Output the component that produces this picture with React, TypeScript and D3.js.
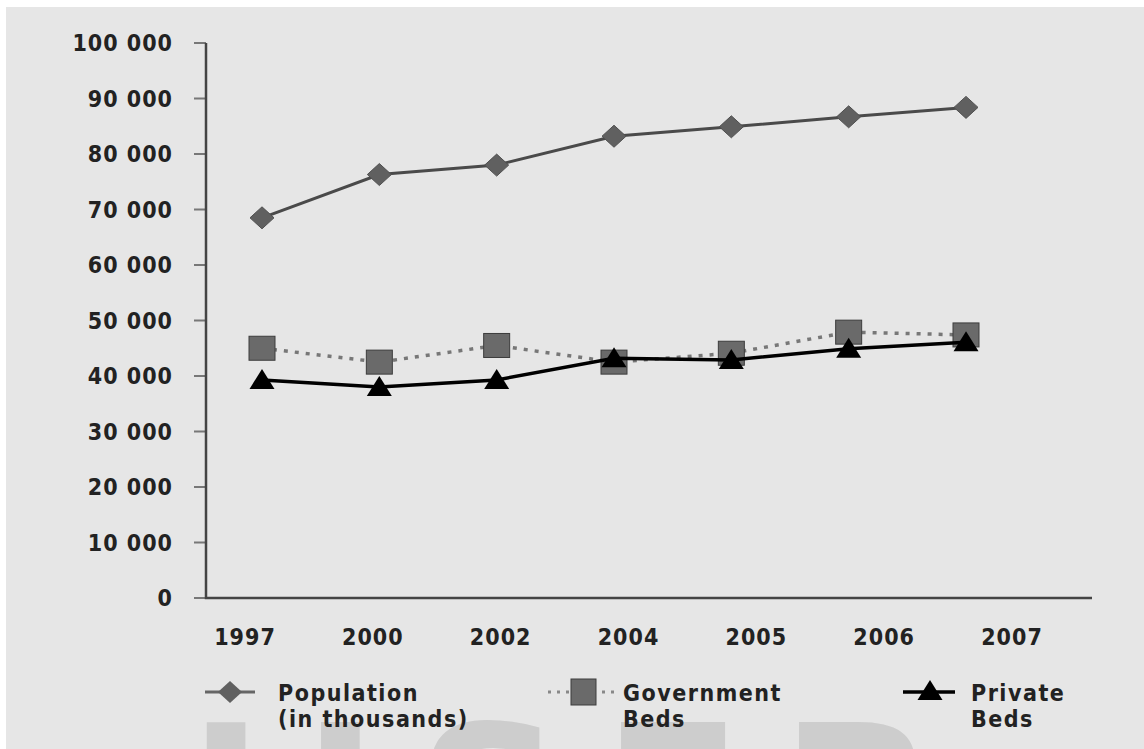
import React, { useEffect, useRef } from 'react';
import * as d3 from 'd3';

const years = ['1997', '2000', '2002', '2004', '2005', '2006', '2007'];
const population = [68500, 76300, 78000, 83200, 84900, 86700, 88400];
const governmentBeds = [45000, 42500, 45500, 42500, 44100, 47900, 47400];
const privateBeds = [39300, 38000, 39300, 43200, 42900, 44900, 46100];
const yTicks = [0, 10000, 20000, 30000, 40000, 50000, 60000, 70000, 80000, 90000, 100000];

const FONT = '"DejaVu Sans Condensed", "DejaVu Sans", sans-serif';

const App = () => {
  const chartRef = useRef<SVGSVGElement | null>(null);

  useEffect(() => {
    const width = 1144;
    const height = 749;
    const svg = d3.select(chartRef.current);
    svg.selectAll('*').remove();

    // fondo gris
    svg.append('rect').attr('width', width).attr('height', height).attr('fill', '#ffffff');
    svg.append('rect').attr('x', 6).attr('y', 7).attr('width', width).attr('height', height).attr('fill', '#e6e6e6');

    // marca de agua
    svg.append('text')
      .attr('x', 188)
      .attr('y', 872)
      .attr('font-family', '"DejaVu Sans", sans-serif')
      .attr('font-weight', 'bold')
      .attr('font-size', 205)
      .attr('letter-spacing', 38)
      .attr('fill', '#cdcdcd')
      .text('IJSER');

    const y = d3.scaleLinear().domain([0, 100000]).range([598, 43]);
    const x = d3.scalePoint<string>().domain(years).range([262, 966]);
    const xLabels = d3.scalePoint<string>().domain(years).range([245, 1012]);
    const fmt = d3.formatLocale({ decimal: '.', thousands: ' ', grouping: [3], currency: ['', ''] }).format(',');

    // eje Y
    const yAxis = svg.append('g');
    yAxis.selectAll('line.tick')
      .data(yTicks)
      .enter().append('line')
      .attr('class', 'tick')
      .attr('x1', 194).attr('x2', 206)
      .attr('y1', d => y(d)).attr('y2', d => y(d))
      .attr('stroke', '#777').attr('stroke-width', 2);
    yAxis.selectAll('text')
      .data(yTicks)
      .enter().append('text')
      .attr('x', 173)
      .attr('y', d => y(d))
      .attr('dy', '0.36em')
      .attr('text-anchor', 'end')
      .attr('font-family', FONT)
      .attr('font-weight', 'bold')
      .attr('font-size', 23)
      .attr('letter-spacing', 1)
      .attr('fill', '#222')
      .text(d => fmt(d));

    svg.append('path')
      .attr('d', `M206,${y(100000)}V${y(0)}H1092`)
      .attr('fill', 'none')
      .attr('stroke', '#444')
      .attr('stroke-width', 2.5);

    // etiquetas X
    svg.append('g').selectAll('text')
      .data(years)
      .enter().append('text')
      .attr('x', d => xLabels(d) as number)
      .attr('y', 645)
      .attr('text-anchor', 'middle')
      .attr('font-family', FONT)
      .attr('font-weight', 'bold')
      .attr('font-size', 23)
      .attr('letter-spacing', 1)
      .attr('fill', '#222')
      .text(d => d);

    const line = d3.line<number>()
      .x((d, i) => x(years[i]) as number)
      .y(d => y(d));

    const diamond = 'M0,-11L12,0L0,11L-12,0Z';
    const triangle = 'M0,-11L12.5,9L-12.5,9Z';

    // poblacion
    svg.append('path')
      .attr('d', line(population))
      .attr('fill', 'none')
      .attr('stroke', '#4a4a4a')
      .attr('stroke-width', 3);
    svg.append('g').selectAll('path')
      .data(population)
      .enter().append('path')
      .attr('d', diamond)
      .attr('transform', (d, i) => `translate(${x(years[i])},${y(d)})`)
      .attr('fill', '#606060')
      .attr('stroke', '#505050')
      .attr('stroke-width', 1);

    // camas gubernamentales
    svg.append('path')
      .attr('d', line(governmentBeds))
      .attr('fill', 'none')
      .attr('stroke', '#777')
      .attr('stroke-width', 3.5)
      .attr('stroke-dasharray', '4,7');
    svg.append('g').selectAll('rect')
      .data(governmentBeds)
      .enter().append('rect')
      .attr('x', (d, i) => (x(years[i]) as number) - 13)
      .attr('y', d => y(d) - 12)
      .attr('width', 26)
      .attr('height', 24)
      .attr('fill', '#6a6a6a')
      .attr('stroke', '#3c3c3c')
      .attr('stroke-width', 1);

    // camas privadas
    svg.append('path')
      .attr('d', line(privateBeds))
      .attr('fill', 'none')
      .attr('stroke', '#000')
      .attr('stroke-width', 3.5);
    svg.append('g').selectAll('path')
      .data(privateBeds)
      .enter().append('path')
      .attr('d', triangle)
      .attr('transform', (d, i) => `translate(${x(years[i])},${y(d)})`)
      .attr('fill', '#000');

    // leyenda
    const legend = svg.append('g');
    const ly = 692;
    const textStyle = (t: d3.Selection<SVGTextElement, unknown, null, undefined>) =>
      t.attr('font-family', FONT).attr('font-weight', 'bold').attr('font-size', 23)
        .attr('letter-spacing', 1.5).attr('fill', '#222');

    legend.append('line').attr('x1', 205).attr('x2', 255).attr('y1', ly).attr('y2', ly)
      .attr('stroke', '#666').attr('stroke-width', 3);
    legend.append('path').attr('d', diamond).attr('transform', `translate(230,${ly})`).attr('fill', '#606060');
    textStyle(legend.append('text').attr('x', 278).attr('y', 701).text('Population'));
    textStyle(legend.append('text').attr('x', 278).attr('y', 727).text('(in thousands)'));

    legend.append('line').attr('x1', 548).attr('x2', 614).attr('y1', ly).attr('y2', ly)
      .attr('stroke', '#888').attr('stroke-width', 3).attr('stroke-dasharray', '3,6');
    legend.append('rect').attr('x', 571).attr('y', ly - 13).attr('width', 25).attr('height', 26)
      .attr('fill', '#6a6a6a').attr('stroke', '#3c3c3c');
    textStyle(legend.append('text').attr('x', 623).attr('y', 701).text('Government'));
    textStyle(legend.append('text').attr('x', 623).attr('y', 727).text('Beds'));

    legend.append('line').attr('x1', 903).attr('x2', 955).attr('y1', ly).attr('y2', ly)
      .attr('stroke', '#000').attr('stroke-width', 3.5);
    legend.append('path').attr('d', triangle).attr('transform', `translate(930,${ly - 1})`).attr('fill', '#000');
    textStyle(legend.append('text').attr('x', 971).attr('y', 701).text('Private'));
    textStyle(legend.append('text').attr('x', 971).attr('y', 727).text('Beds'));
  }, []);

  return (
    <svg
      ref={chartRef}
      width={1144}
      height={749}
      style={{ position: 'absolute', left: 0, top: 0, display: 'block' }}
    />
  );
};

export default App;
